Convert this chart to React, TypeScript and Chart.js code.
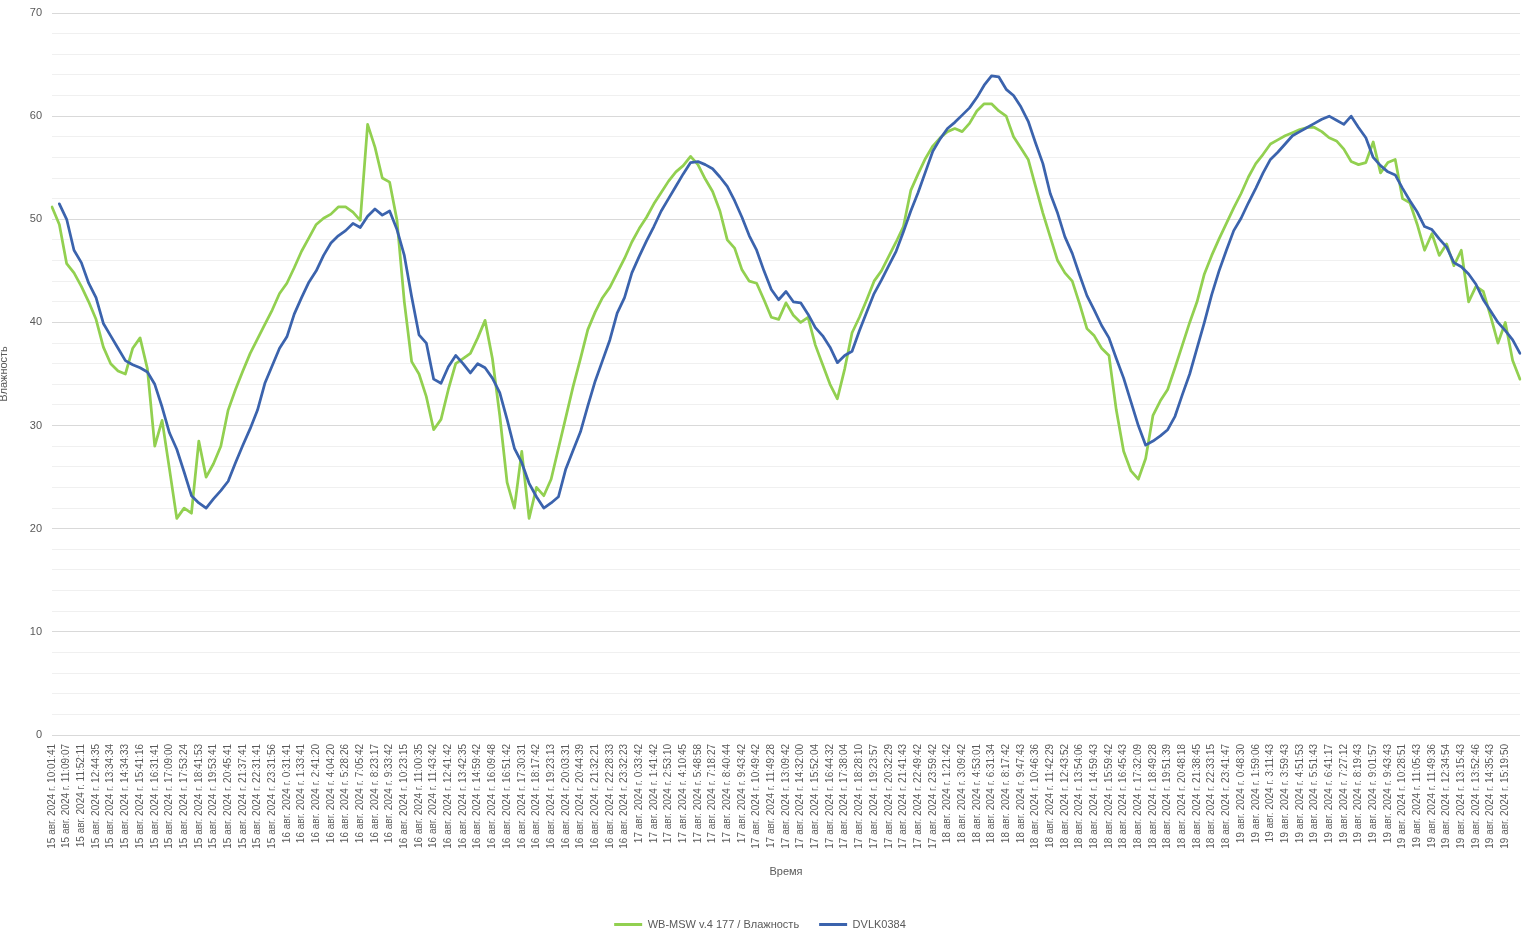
import React, { useEffect, useRef } from "react";
import { Chart, registerables } from "chart.js";

Chart.register(...registerables);

const MONTH = "авг. 2024 г.";
const DAY15_TIMES = ["10:01:41","11:09:07","11:52:11","12:44:35","13:34:34","14:34:33","15:41:16","16:31:41","17:09:00","17:53:24","18:41:53","19:53:41","20:45:41","21:37:41","22:31:41","23:31:56"];
const DAY16_TIMES = ["0:31:41","1:33:41","2:41:20","4:04:20","5:28:26","7:05:42","8:23:17","9:33:42","10:23:15","11:00:35","11:43:42","12:41:42","13:42:35","14:59:42","16:09:48","16:51:42","17:30:31","18:17:42","19:23:13","20:03:31","20:44:39","21:32:21","22:28:33","23:32:23"];
const DAY17_TIMES = ["0:33:42","1:41:42","2:53:10","4:10:45","5:48:58","7:18:27","8:40:44","9:43:42","10:49:42","11:49:28","13:09:42","14:32:00","15:52:04","16:44:32","17:38:04","18:28:10","19:23:57","20:32:29","21:41:43","22:49:42","23:59:42"];
const DAY18_TIMES = ["1:21:42","3:09:42","4:53:01","6:31:34","8:17:42","9:47:43","10:46:36","11:42:29","12:43:52","13:54:06","14:59:43","15:59:42","16:45:43","17:32:09","18:49:28","19:51:39","20:48:18","21:38:45","22:33:15","23:41:47"];
const DAY19_TIMES = ["0:48:30","1:59:06","3:11:43","3:59:43","4:51:53","5:51:43","6:41:17","7:27:12","8:19:43","9:01:57","9:43:43","10:28:51","11:05:43","11:49:36","12:34:54","13:15:43","13:52:46","14:35:43","15:19:50"];

// humidity readings, two samples per labelled category
const WB_MSW = [
  51.2, 49.5, 45.7, 44.8, 43.5, 42.0, 40.3, 37.6, 36.0, 35.3,
  35.0, 37.5, 38.5, 35.5, 28.0, 30.5, 25.8, 21.0, 22.0, 21.5,
  28.5, 25.0, 26.3, 28.0, 31.5, 33.5, 35.3, 37.0, 38.4, 39.8,
  41.2, 42.8, 43.8, 45.3, 46.9, 48.2, 49.5, 50.1, 50.5, 51.2,
  51.2, 50.7, 49.9, 59.2, 57.0, 54.0, 53.6, 49.9, 42.0, 36.2,
  35.0, 32.8, 29.6, 30.6, 33.5, 36.0, 36.5, 37.0, 38.5, 40.2,
  36.5, 31.0, 24.5, 22.0, 27.5, 21.0, 24.0, 23.2, 24.8, 27.8,
  30.8, 33.8, 36.5, 39.3, 41.0, 42.4, 43.4, 44.8, 46.2, 47.8,
  49.1, 50.2, 51.5, 52.6, 53.7, 54.6, 55.2, 56.1, 55.3, 53.9,
  52.7, 50.8, 48.0, 47.2, 45.1, 44.0, 43.8, 42.2, 40.5, 40.3,
  41.9, 40.7, 40.0, 40.5, 37.8, 35.9, 34.0, 32.6, 35.5, 39.0,
  40.5, 42.2, 44.0, 45.0, 46.4, 47.8, 49.3, 52.8, 54.4, 55.9,
  57.1, 57.9, 58.5, 58.8, 58.5, 59.3, 60.5, 61.2, 61.2, 60.5,
  60.0, 58.0, 56.9, 55.8, 53.2, 50.6, 48.3, 46.0, 44.8, 44.0,
  41.8, 39.4, 38.7, 37.5, 36.8, 31.5, 27.5, 25.6, 24.8, 26.8,
  31.0, 32.4, 33.5, 35.6, 37.8, 40.0, 42.0, 44.7, 46.5, 48.1,
  49.6, 51.1, 52.5, 54.1, 55.4, 56.3, 57.3, 57.7, 58.1, 58.4,
  58.7, 58.9, 58.9, 58.5, 57.9, 57.6, 56.8, 55.6, 55.3, 55.5,
  57.5, 54.5, 55.5, 55.8, 52.0, 51.6, 49.5, 47.0, 48.6, 46.5,
  47.6, 45.5, 47.0, 42.0, 43.5, 43.0, 40.6, 38.0, 40.0, 36.3,
  34.5,
];

const DVLK = [
  null, 51.5, 50.0, 47.0, 45.8, 43.8, 42.4, 39.9, 38.7, 37.5,
  36.3, 35.9, 35.6, 35.2, 34.0, 31.8, 29.3, 27.7, 25.5, 23.2,
  22.5, 22.0, 22.9, 23.7, 24.6, 26.4, 28.1, 29.7, 31.5, 34.1,
  35.8, 37.5, 38.6, 40.8, 42.4, 43.9, 45.0, 46.5, 47.7, 48.4,
  48.9, 49.6, 49.2, 50.3, 51.0, 50.4, 50.8, 49.0, 46.5, 42.5,
  38.8, 38.0, 34.5, 34.1, 35.7, 36.8, 36.0, 35.1, 36.0, 35.6,
  34.6, 33.2, 30.6, 27.8, 26.4, 24.4, 23.1, 22.0, 22.5, 23.1,
  25.8, 27.6, 29.4, 31.9, 34.3, 36.3, 38.3, 40.9, 42.4, 44.8,
  46.4, 47.9, 49.3, 50.8, 52.0, 53.2, 54.4, 55.5, 55.6, 55.3,
  54.9, 54.1, 53.2, 51.8, 50.2, 48.4, 47.0, 45.0, 43.2, 42.2,
  43.0, 42.0, 41.9, 40.8, 39.5, 38.7, 37.6, 36.1, 36.8, 37.2,
  39.2, 41.0, 42.8, 44.1, 45.5, 46.9, 48.8, 50.8, 52.6, 54.6,
  56.6, 57.8, 58.8, 59.4, 60.1, 60.8, 61.8, 63.0, 63.9, 63.8,
  62.6, 62.0, 60.9, 59.5, 57.4, 55.4, 52.5, 50.6, 48.3, 46.7,
  44.6, 42.6, 41.2, 39.7, 38.5, 36.5, 34.6, 32.3, 30.0, 28.1,
  28.5, 29.0, 29.6, 30.9, 33.0, 35.0, 37.5, 40.0, 42.7, 45.0,
  47.0, 48.9, 50.1, 51.6, 53.0, 54.5, 55.8, 56.5, 57.3, 58.1,
  58.5, 58.9, 59.3, 59.7, 60.0, 59.6, 59.2, 60.0, 58.9, 57.9,
  56.0, 55.2, 54.6, 54.3, 53.0, 51.8, 50.7, 49.3, 49.0, 48.1,
  47.3, 45.8, 45.4, 44.7, 43.7, 42.2, 41.1, 40.0, 39.2, 38.3,
  37.0,
];

const SERIES_NAMES = ["WB-MSW v.4 177 / Влажность", "DVLK0384"];
const Y_TITLE = "Влажность";
const X_TITLE = "Время";

const TICK_LABELS: string[] = [
  ...DAY15_TIMES.map((t) => `15 ${MONTH} ${t}`),
  ...DAY16_TIMES.map((t) => `16 ${MONTH} ${t}`),
  ...DAY17_TIMES.map((t) => `17 ${MONTH} ${t}`),
  ...DAY18_TIMES.map((t) => `18 ${MONTH} ${t}`),
  ...DAY19_TIMES.map((t) => `19 ${MONTH} ${t}`),
];

const CATEGORIES: string[] = WB_MSW.map((_, i) =>
  i % 2 === 0 && i / 2 < TICK_LABELS.length ? TICK_LABELS[i / 2] : ""
);

const FONT = '"Liberation Sans", Arial, sans-serif';
const TEXT = "#595959";

const yTitlePlugin = {
  id: "yTitlePlugin",
  afterDraw(chart: any) {
    const { ctx, chartArea } = chart;
    ctx.save();
    ctx.translate(4, (chartArea.top + chartArea.bottom) / 2);
    ctx.rotate(-Math.PI / 2);
    ctx.font = `11px ${FONT}`;
    ctx.fillStyle = TEXT;
    ctx.textAlign = "center";
    ctx.textBaseline = "middle";
    ctx.fillText(Y_TITLE, 0, 0);
    ctx.restore();
  },
};

export default function App() {
  const ref = useRef<HTMLCanvasElement | null>(null);

  useEffect(() => {
    if (!ref.current) return;
    Chart.defaults.font.family = FONT;
    const chart = new Chart(ref.current, {
      type: "line",
      data: {
        labels: CATEGORIES,
        datasets: [
          {
            label: SERIES_NAMES[0],
            data: WB_MSW,
            borderColor: "#92D050",
            backgroundColor: "#92D050",
            borderWidth: 2.75,
            pointRadius: 0,
            tension: 0,
            borderJoinStyle: "round",
            borderCapStyle: "round",
            order: 1,
          },
          {
            label: SERIES_NAMES[1],
            data: DVLK,
            borderColor: "#3B63AD",
            backgroundColor: "#3B63AD",
            borderWidth: 2.75,
            pointRadius: 0,
            tension: 0,
            borderJoinStyle: "round",
            borderCapStyle: "round",
            order: 0,
          },
        ],
      },
      options: {
        responsive: false,
        animation: false,
        devicePixelRatio: 1,
        layout: { padding: { top: 13, right: 13, left: 0, bottom: 0 } },
        plugins: {
          tooltip: { enabled: false },
          legend: {
            position: "bottom",
            labels: {
              boxWidth: 28,
              boxHeight: 3,
              padding: 20,
              color: TEXT,
              font: { size: 11, family: FONT },
              sort: (a: any, b: any) => a.datasetIndex - b.datasetIndex,
              generateLabels: (ch: any) => {
                const items = Chart.defaults.plugins.legend.labels.generateLabels(ch);
                return items.map((it: any) => ({ ...it, lineWidth: 0 }));
              },
            },
          },
        },
        scales: {
          x: {
            type: "category",
            offset: false,
            grid: { display: false },
            border: { display: false },
            ticks: {
              autoSkip: false,
              maxRotation: 90,
              minRotation: 90,
              padding: 1,
              color: TEXT,
              font: { size: 10, family: FONT },
            },
            title: {
              display: true,
              text: X_TITLE,
              color: TEXT,
              font: { size: 11, family: FONT },
              padding: { top: 0, bottom: 20 },
            },
            afterFit: (scale: any) => {
              scale.height = 164;
            },
          },
          y: {
            min: 0,
            max: 70,
            border: { display: false },
            grid: {
              drawTicks: false,
              color: (c: any) =>
                c.tick && c.tick.value % 10 === 0 ? "#D9D9D9" : "#F0F0F0",
              lineWidth: 1,
            },
            ticks: {
              stepSize: 2,
              autoSkip: false,
              padding: 10,
              color: TEXT,
              font: { size: 11, family: FONT },
              callback: (v: any) => (Number(v) % 10 === 0 ? String(v) : ""),
            },
            afterFit: (scale: any) => {
              scale.width = 52;
              scale.paddingTop = 0;
              scale.paddingBottom = 0;
            },
          },
        },
      },
      plugins: [yTitlePlugin],
    } as any);
    return () => chart.destroy();
  }, []);

  return (
    <div style={{ position: "absolute", left: 0, top: 0, width: 1533, height: 940, background: "#fff" }}>
      <canvas ref={ref} width={1533} height={940} style={{ display: "block" }} />
    </div>
  );
}
